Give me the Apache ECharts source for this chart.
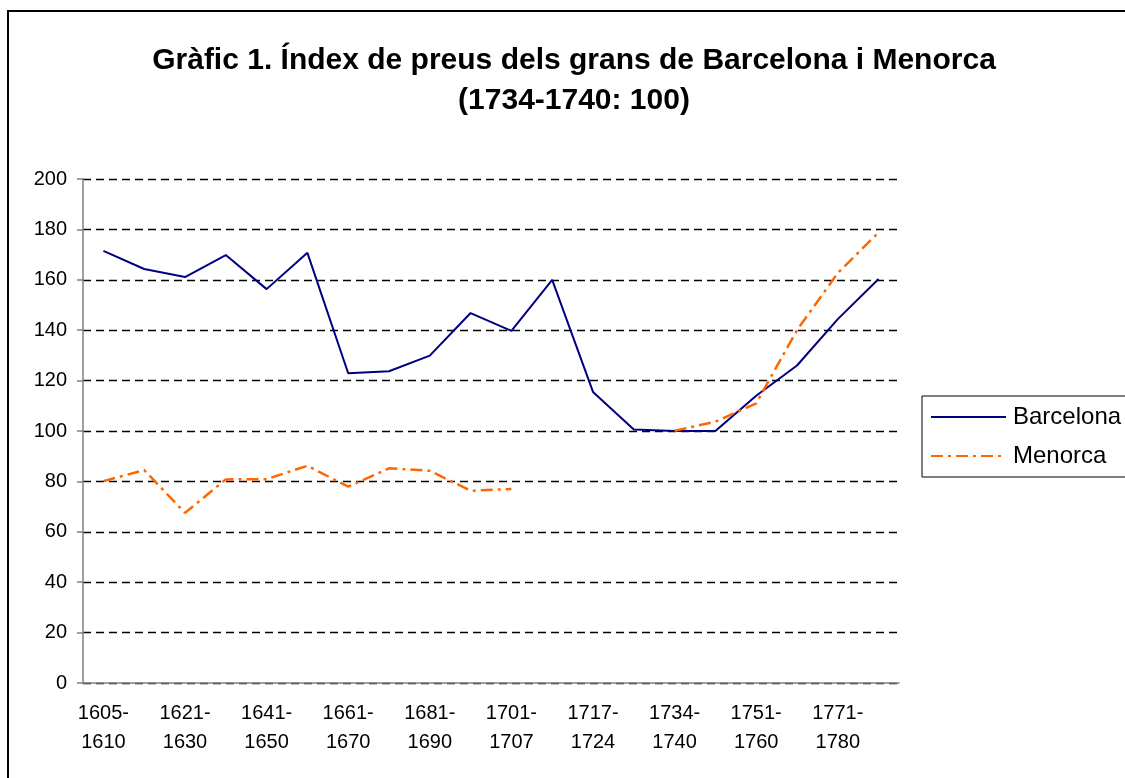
<!DOCTYPE html>
<html>
<head>
<meta charset="utf-8">
<title>Gràfic 1</title>
<script src="https://cdn.jsdelivr.net/npm/echarts@6/dist/echarts.min.js"></script>
<style>
  html, body { margin: 0; padding: 0; background: #fff; }
  #chart { width: 1125px; height: 778px; }
</style>
</head>
<body>
<div id="chart"></div>
<script>
// períodes (només es veu una etiqueta de cada dues)
var periodes = [
  '1605-\n1610', '1611-\n1620', '1621-\n1630', '1631-\n1640', '1641-\n1650',
  '1651-\n1660', '1661-\n1670', '1671-\n1680', '1681-\n1690', '1691-\n1700',
  '1701-\n1707', '1708-\n1716', '1717-\n1724', '1725-\n1733', '1734-\n1740',
  '1741-\n1750', '1751-\n1760', '1761-\n1770', '1771-\n1780', '1781-\n1790'
];
var barcelona = [171.5, 164.3, 161.1, 169.8, 156.3, 170.7, 122.9, 123.7, 129.9, 146.8,
                 139.7, 160.0, 115.5, 100.6, 100.0, 100.0, 114.0, 126.0, 144.4, 160.3];
var menorca = [80.1, 84.5, 67.5, 80.8, 80.9, 86.2, 77.9, 85.2, 84.2, 76.3,
               77.0, null, null, null, 100.1, 103.7, 111.0, 140.0, 162.7, 178.8];

var font = 'Arial, "Liberation Sans", sans-serif';
var myChart = echarts.init(document.getElementById('chart'));

myChart.setOption({
  backgroundColor: '#fff',
  animation: false,
  textStyle: { fontFamily: font, color: '#000' },
  graphic: [{
    type: 'rect',
    shape: { x: 8, y: 11, width: 1200, height: 800 },
    style: { fill: 'none', stroke: '#000', lineWidth: 2 },
    silent: true
  }],
  title: {
    text: 'Gràfic 1. Índex de preus dels grans de Barcelona i Menorca\n(1734-1740: 100)',
    left: 569,
    textAlign: 'center',
    top: 36,
    textStyle: { fontFamily: font, fontSize: 30, fontWeight: 'bold', color: '#000', lineHeight: 40 }
  },
  legend: {
    orient: 'vertical',
    left: 922,
    top: 396,
    padding: [9, 12, 9, 8],
    itemGap: 15,
    itemWidth: 75,
    itemHeight: 12,
    backgroundColor: '#fff',
    borderColor: '#000',
    borderWidth: 1,
    borderRadius: 0,
    itemStyle: { opacity: 0 },
    textStyle: { fontFamily: font, fontSize: 24, color: '#000', padding: [0, 0, 0, 2] },
    data: ['Barcelona', 'Menorca']
  },
  grid: { left: 83, right: 226, top: 179, bottom: 95 },
  xAxis: {
    type: 'category',
    data: periodes,
    boundaryGap: true,
    axisLine: { lineStyle: { color: '#808080', width: 1.5 } },
    axisTick: { interval: 0, length: 6, lineStyle: { color: '#808080', width: 1.5 } },
    axisLabel: {
      interval: 1,
      margin: 16,
      fontSize: 20,
      lineHeight: 29,
      color: '#000',
      fontFamily: font
    },
    splitLine: { show: false }
  },
  yAxis: {
    type: 'value',
    min: 0,
    max: 200,
    interval: 20,
    axisLine: { show: true, lineStyle: { color: '#808080', width: 1.5 } },
    axisTick: { show: true, length: 6, lineStyle: { color: '#808080', width: 1.5 } },
    axisLabel: { fontSize: 20, color: '#000', margin: 16, fontFamily: font },
    splitLine: { lineStyle: { color: '#000', type: [8, 5], width: 1.3 } }
  },
  series: [{
    name: 'Barcelona',
    type: 'line',
    data: barcelona,
    symbol: 'none',
    color: '#000080',
    lineStyle: { color: '#000080', width: 2 }
  }, {
    name: 'Menorca',
    type: 'line',
    data: menorca,
    symbol: 'none',
    connectNulls: false,
    color: '#FF6600',
    lineStyle: { color: '#FF6600', width: 2.5, type: [12, 5, 3, 5] }
  }]
});

window.addEventListener('resize', function () {
  myChart.resize();
});
</script>
</body>
</html>
